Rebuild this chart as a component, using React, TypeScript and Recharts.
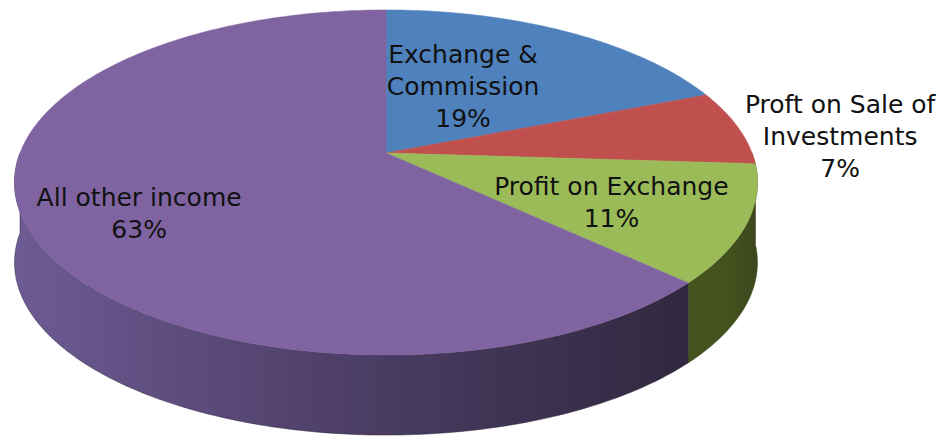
import { PieChart, Pie, Cell } from 'recharts';

const CATEGORIES = ['Exchange &\nCommission', 'Proft on Sale of\nInvestments', 'Profit on Exchange', 'All other income'];
const SHARES = [19, 7, 11, 63];

const TOP_COLORS = ['#4f81bd', '#c0504d', '#9bbb59', '#8064a2'];
// wall shading, light (left) to dark (right)
const WALL_COLORS = [
    ['#3a5f8c', '#2c4a6e'],
    ['#8e3a38', '#6e2a28'],
    ['#45531f', '#3b471d'],
    ['#6d5b93', '#31283f'],
];

// label placement: radius factor, dx, dy
const LABEL_PLACE = [
    [0.45, -10, -8],
    [1.3, 0, 16],
    [0.65, -3, 4],
    [0.7, 0, 11],
];

const data = CATEGORIES.map((name, i) => ({ name, value: SHARES[i] }));

const W = 939;
const H = 440;
const CX = 386;
const CY = 153;
const RX = 366;
const TILT = 0.4577;
const PERSP = 0.171;
const DEPTH = 80;

if (typeof document !== 'undefined') document.body.style.margin = '0';

function project(cx: number, cy: number, r: number, angle: number, f = 1) {
    const a = (angle * Math.PI) / 180;
    const u = f * Math.cos(a);
    const v = -f * Math.sin(a);
    const d = 1 - PERSP * v;
    return { x: cx + (r * u) / d, y: cy + (r * TILT * v) / d };
}

function arc(cx: number, cy: number, r: number, a0: number, a1: number) {
    const n = Math.max(2, Math.ceil(Math.abs(a1 - a0)));
    const pts = [];
    for (let i = 0; i <= n; i++) pts.push(project(cx, cy, r, a0 + ((a1 - a0) * i) / n));
    return pts;
}

const idxOf = (p: any) => (p.index ?? CATEGORIES.indexOf(p.name ?? p.payload?.name));

function TopShape(p: any) {
    const pts = arc(p.cx, p.cy, p.outerRadius, p.startAngle, p.endAngle);
    const d = `M${p.cx},${p.cy} ` + pts.map((q) => `L${q.x.toFixed(2)},${q.y.toFixed(2)}`).join(' ') + ' Z';
    return <path d={d} fill={p.fill} stroke={p.fill} strokeWidth={0.5} />;
}

function WallShape(p: any) {
    const i = idxOf(p);
    const lo = Math.max(Math.min(p.startAngle, p.endAngle), -180);
    const hi = Math.min(Math.max(p.startAngle, p.endAngle), 0);
    if (hi <= lo) return <g />;
    const top = arc(p.cx, p.cy, p.outerRadius, hi, lo);
    const bottom = top.map((q) => ({ x: q.x, y: q.y + DEPTH })).reverse();
    const d = [...top, ...bottom].map((q, k) => `${k ? 'L' : 'M'}${q.x.toFixed(2)},${q.y.toFixed(2)}`).join(' ') + ' Z';
    const [light, dark] = WALL_COLORS[i] ?? ['#555', '#333'];
    const gid = `wall-${i}`;
    return (
        <g>
            <defs>
                <linearGradient id={gid} x1="0" y1="0" x2="1" y2="0">
                    <stop offset="0%" stopColor={light} />
                    <stop offset="50%" stopColor={i === 3 ? '#4c3e66' : light} />
                    <stop offset="100%" stopColor={dark} />
                </linearGradient>
            </defs>
            <path d={d} fill={`url(#${gid})`} stroke={dark} strokeWidth={0.5} />
        </g>
    );
}

function renderLabel(p: any) {
    const i = idxOf(p);
    const [rf, dx, dy] = LABEL_PLACE[i];
    const c = project(p.cx, p.cy, p.outerRadius, p.midAngle, rf);
    const lines = [...CATEGORIES[i].split('\n'), `${SHARES[i]}%`];
    const lh = 32;
    const y0 = c.y + dy - ((lines.length - 1) * lh) / 2 + 9;
    return (
        <text
            key={`lbl-${i}`}
            x={c.x + dx}
            y={y0}
            textAnchor="middle"
            fill="#111"
            fontSize={25}
            fontFamily="'DejaVu Sans', sans-serif"
        >
            {lines.map((t, k) => (
                <tspan key={k} x={c.x + dx} dy={k === 0 ? 0 : lh}>
                    {t}
                </tspan>
            ))}
        </text>
    );
}

export default function App() {
    return (
        <div style={{ width: W, height: H, background: '#fff' }}>
            <PieChart width={W} height={H} margin={{ top: 0, right: 0, bottom: 0, left: 0 }}>
                <Pie
                    data={data}
                    dataKey="value"
                    nameKey="name"
                    cx={CX}
                    cy={CY}
                    outerRadius={RX}
                    startAngle={90}
                    endAngle={-270}
                    stroke="none"
                    shape={WallShape}
                    isAnimationActive={false}
                >
                    {data.map((_, i) => (
                        <Cell key={i} fill={WALL_COLORS[i][1]} />
                    ))}
                </Pie>
                <Pie
                    data={data}
                    dataKey="value"
                    nameKey="name"
                    cx={CX}
                    cy={CY}
                    outerRadius={RX}
                    startAngle={90}
                    endAngle={-270}
                    stroke="none"
                    shape={TopShape}
                    label={renderLabel}
                    labelLine={false}
                    isAnimationActive={false}
                >
                    {data.map((_, i) => (
                        <Cell key={i} fill={TOP_COLORS[i]} />
                    ))}
                </Pie>
            </PieChart>
        </div>
    );
}
